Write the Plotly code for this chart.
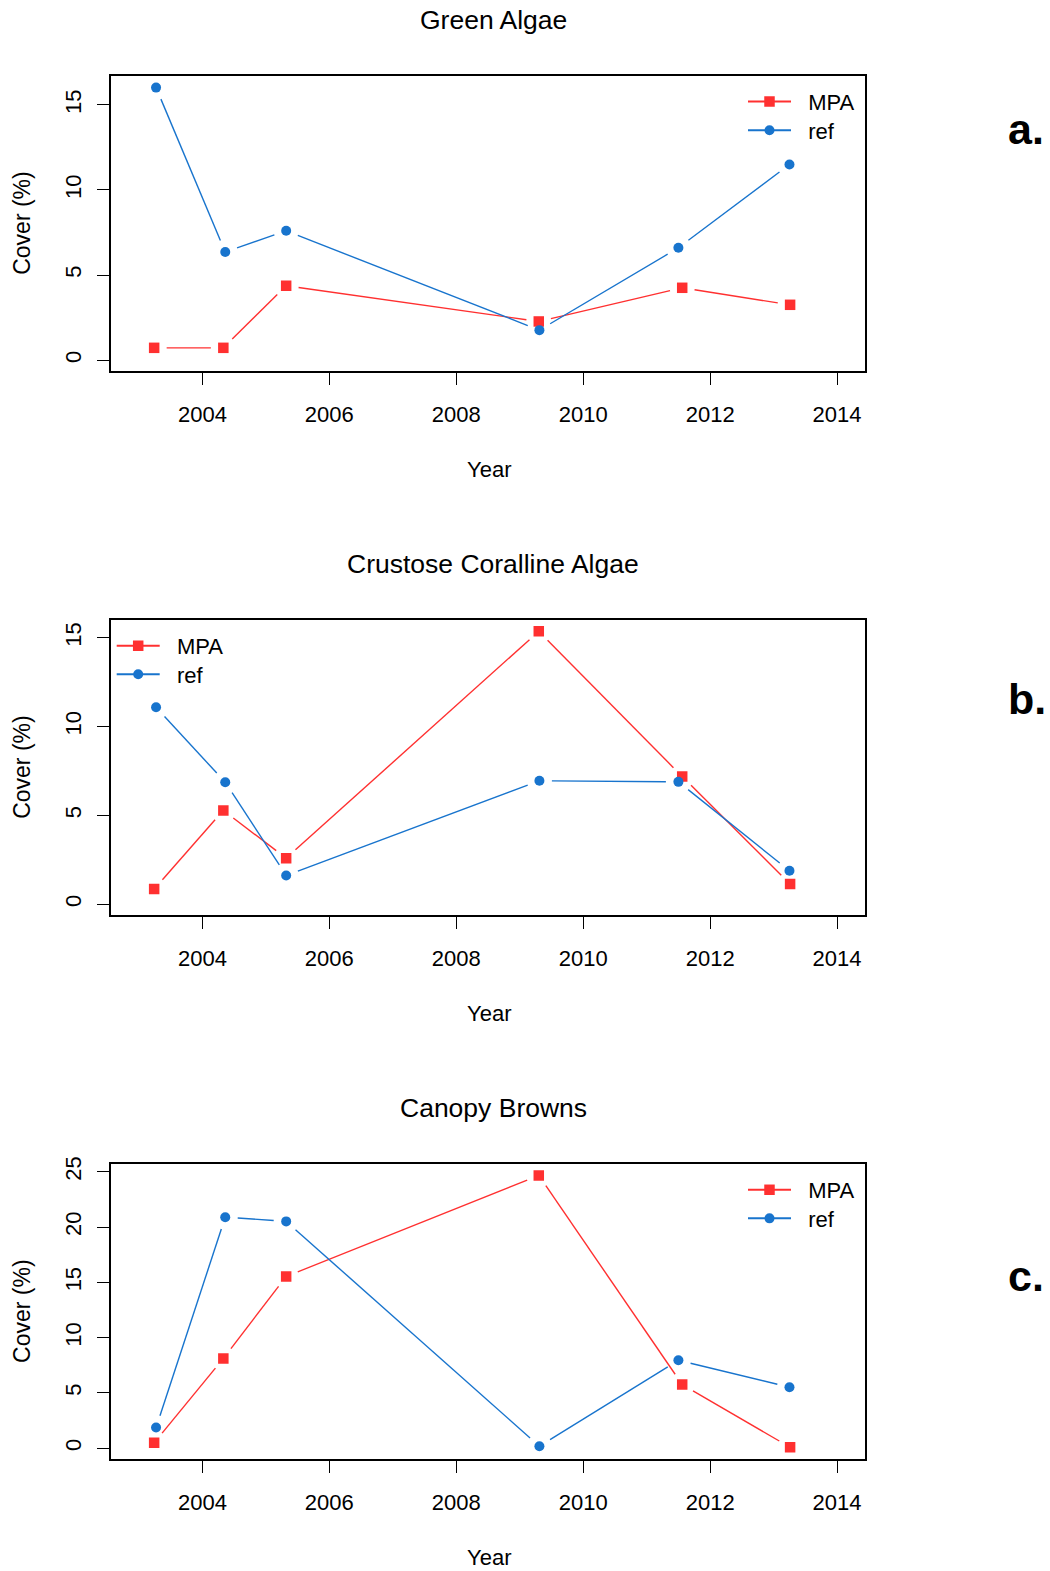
import math
import plotly.graph_objects as go

W, H = 1050, 1571
# vertical placement: pixel position -> paper fraction, with a small
# correction for the page's vertical offset and scale
V_OFF, V_SCALE = 6.5, 0.9954

# survey dates (decimal years) for each site type
years_mpa = [2003.24, 2004.33, 2005.32, 2009.30, 2011.56, 2013.26]
years_ref = [2003.27, 2004.36, 2005.32, 2009.31, 2011.50, 2013.25]

# percent cover by functional group
green_mpa = [0.72, 0.72, 4.37, 2.27, 4.25, 3.25]
green_ref = [16.02, 6.35, 7.60, 1.76, 6.60, 11.50]
cca_mpa = [0.85, 5.28, 2.59, 15.37, 7.19, 1.13]
cca_ref = [11.09, 6.87, 1.62, 6.95, 6.89, 1.88]
canopy_mpa = [0.49, 8.12, 15.54, 24.68, 5.76, 0.09]
canopy_ref = [1.87, 20.90, 20.52, 0.18, 7.96, 5.52]

titles = ["Green Algae", "Crustose Coralline Algae", "Canopy Browns"]
letters = ["a.", "b.", "c."]
series_names = ["MPA", "ref"]
x_ticks = [2004, 2006, 2008, 2010, 2012, 2014]
y_ticks = [[0, 5, 10, 15], [0, 5, 10, 15], [0, 5, 10, 15, 20, 25]]
y_ranges = [[-0.645, 16.73], [-0.617, 16.03], [-0.99, 25.74]]
x_range = [2002.56, 2014.44]

panels = [(green_mpa, green_ref), (cca_mpa, cca_ref), (canopy_mpa, canopy_ref)]

RED = "#FF3030"
BLUE = "#1874CD"
FONT = "Liberation Sans, Arial, Helvetica, sans-serif"
NBSP = "\u00a0"

# plot box geometry in pixels
BOX_L, BOX_R = 111, 865
BOX_H = 295.5
BOX_TOPS = [75, 619, 1163]
# legend: left end of the key line, and row centres relative to box top
legend_x = [748, 116.7, 748]
legend_rows = [26.7, 55.3]
letter_y = [128, 698, 1275]


def fx(px):
    return px / W


def fy(py):
    return 1 - ((py - V_OFF) / V_SCALE) / H


def gapped(xs, ys, xr, yr, wpx, hpx, gap=12.5):
    """Line segments between consecutive points, stopped short of each point."""
    gx, gy = [], []
    for i in range(len(xs) - 1):
        ddx = xs[i + 1] - xs[i]
        ddy = ys[i + 1] - ys[i]
        d = math.hypot(ddx / (xr[1] - xr[0]) * wpx, ddy / (yr[1] - yr[0]) * hpx)
        if d <= 2 * gap:
            continue
        f = gap / d
        gx += [xs[i] + f * ddx, xs[i + 1] - f * ddx, None]
        gy += [ys[i] + f * ddy, ys[i + 1] - f * ddy, None]
    return gx, gy


fig = go.Figure()
annotations = []
layout = {}
leg_count = 0

for k, (mpa, ref) in enumerate(panels):
    n = "" if k == 0 else str(k + 1)
    xa, ya = "x" + n, "y" + n
    top = BOX_TOPS[k]
    bot = top + BOX_H
    yr = y_ranges[k]

    for j, (name, xs, ys, color, symbol, msize) in enumerate([
        ("MPA", years_mpa, mpa, RED, "square", 10.5),
        ("ref", years_ref, ref, BLUE, "circle", 10),
    ]):
        gx, gy = gapped(xs, ys, x_range, yr, BOX_R - BOX_L, BOX_H)
        fig.add_trace(go.Scatter(
            x=gx, y=gy, mode="lines", xaxis=xa, yaxis=ya,
            line=dict(color=color, width=1.4), showlegend=False, hoverinfo="skip",
        ))
        fig.add_trace(go.Scatter(
            x=xs, y=ys, mode="markers", xaxis=xa, yaxis=ya, name=name,
            marker=dict(color=color, symbol=symbol, size=msize, line=dict(width=0)),
            showlegend=False,
        ))
        # one legend per key row so each row sits at its own height
        leg_count += 1
        leg = "legend" if leg_count == 1 else "legend%d" % leg_count
        fig.add_trace(go.Scatter(
            x=[None], y=[None], mode="lines+markers", xaxis=xa, yaxis=ya,
            name=NBSP * 2 + name,
            line=dict(color=color, width=2),
            marker=dict(color=color, symbol=symbol, size=msize, line=dict(width=0)),
            legend=leg, showlegend=True,
        ))
        layout[leg] = dict(
            x=fx(legend_x[k] - 5), y=fy(top + legend_rows[j] - 21.4),
            xanchor="left", yanchor="top",
            font=dict(family=FONT, size=22, color="black"),
            bgcolor="rgba(0,0,0,0)", borderwidth=0, itemwidth=43,
        )

    axis_font = dict(family=FONT, size=22, color="black")
    layout["xaxis" + n] = dict(
        domain=[fx(BOX_L), fx(BOX_R)], range=x_range, anchor=ya,
        tickmode="array", tickvals=x_ticks, ticks="outside", ticklen=12,
        tickwidth=1.3, tickcolor="black", showline=True, linecolor="black",
        linewidth=1.6, mirror=True, showgrid=False, zeroline=False,
        tickfont=axis_font, ticklabelstandoff=11,
    )
    layout["yaxis" + n] = dict(
        domain=[fy(bot), fy(top)], range=yr, anchor=xa,
        tickmode="array", tickvals=y_ticks[k], ticks="outside", ticklen=12,
        tickwidth=1.3, tickcolor="black", showline=True, linecolor="black",
        linewidth=1.6, mirror=True, showgrid=False, zeroline=False,
        tickfont=axis_font, tickangle=-90, ticklabelstandoff=7,
    )

    annotations += [
        dict(text=titles[k], x=fx(493), y=fy(top - 55.5), xref="paper", yref="paper",
             showarrow=False, xanchor="center", yanchor="middle",
             font=dict(family=FONT, size=26.5, color="black")),
        dict(text="Year", x=fx(489), y=fy(bot + 98.5), xref="paper", yref="paper",
             showarrow=False, xanchor="center", yanchor="middle",
             font=dict(family=FONT, size=22, color="black")),
        dict(text="Cover (%)", x=fx(22.5), y=fy(top + BOX_H / 2), xref="paper",
             yref="paper", showarrow=False, xanchor="center", yanchor="middle",
             textangle=-90, font=dict(family=FONT, size=23, color="black")),
        dict(text="<b>" + letters[k] + "</b>", x=fx(1006), y=fy(letter_y[k]),
             xref="paper", yref="paper", showarrow=False, xanchor="left",
             yanchor="middle", font=dict(family=FONT, size=43, color="black")),
    ]

fig.update_layout(
    width=W, height=H, autosize=False,
    margin=dict(l=0, r=0, t=0, b=0, pad=0),
    paper_bgcolor="white", plot_bgcolor="white",
    annotations=annotations, **layout,
)

fig.write_html("out.html")
